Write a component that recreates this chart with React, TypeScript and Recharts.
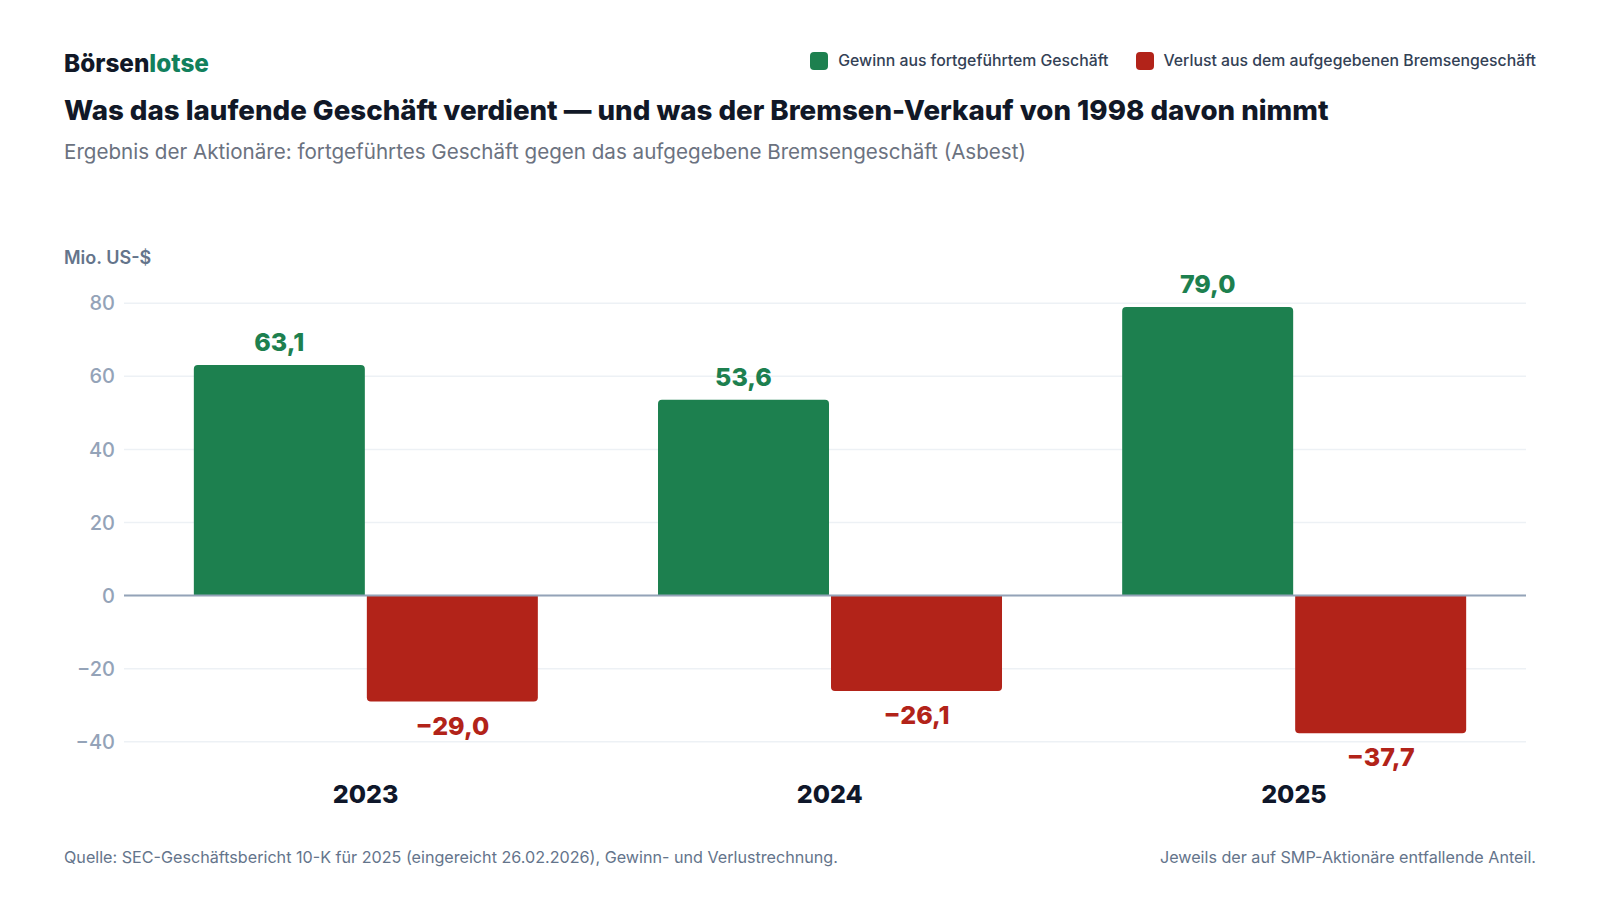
import { Bar, BarChart, CartesianGrid, LabelList, ReferenceLine, XAxis, YAxis } from "recharts";

const years = ["2023", "2024", "2025"];
const gewinn = [63.1, 53.6, 79.0];
const verlust = [-29.0, -26.1, -37.7];
const yTicks = [-40, -20, 0, 20, 40, 60, 80];

const seriesNames = ["Gewinn aus fortgeführtem Geschäft", "Verlust aus dem aufgegebenen Bremsengeschäft"];
const GREEN = "#1d804f";
const RED = "#b22319";
const FONT = 'Inter, "Noto Sans", sans-serif';

const rows = years.map((year, i) => ({ year, gewinn: gewinn[i], verlust: verlust[i] }));

function fmt(v: number) {
  return v.toFixed(1).replace(".", ",").replace("-", "\u2212");
}

function ValueLabel(props: any) {
  const vb = props.viewBox ?? {};
  const x = props.x ?? vb.x;
  const y = props.y ?? vb.y;
  const width = props.width ?? vb.width;
  const height = props.height ?? vb.height;
  const value = Number(props.value);
  if (x == null || y == null) return null;
  const top = Math.min(y, y + height);
  const bottom = Math.max(y, y + height);
  const cx = x + width / 2;
  const neg = value < 0;
  return (
    <text
      x={cx}
      y={neg ? bottom + 33 : top - 14}
      textAnchor="middle"
      fontFamily={FONT}
      fontSize={25}
      fontWeight={800}
      fill={neg ? RED : GREEN}
    >
      {fmt(value)}
    </text>
  );
}

const yTick = (v: number) => (v < 0 ? "\u2212" + Math.abs(v) : String(v));

export default function App() {
  const legendColors = [GREEN, RED];
  return (
    <div
      style={{
        position: "absolute",
        left: 0,
        top: 0,
        width: 1600,
        height: 900,
        background: "#ffffff",
        fontFamily: FONT,
      }}
    >
      <div style={{ position: "absolute", left: 64, top: 51, fontSize: 24.3, lineHeight: 1, fontWeight: 800, color: "#111827" }}>
        Börsen<span style={{ color: "#12805c" }}>lotse</span>
      </div>

      <div style={{ position: "absolute", right: 64, top: 52, display: "flex", gap: 27, alignItems: "center" }}>
        {seriesNames.map((name, i) => (
          <div key={name} style={{ display: "flex", alignItems: "center", gap: 10 }}>
            <div style={{ width: 18, height: 18, borderRadius: 4, background: legendColors[i] }} />
            <span style={{ fontSize: 15.8, fontWeight: 500, color: "#334155", lineHeight: "18px" }}>{name}</span>
          </div>
        ))}
      </div>

      <div style={{ position: "absolute", left: 64, top: 96.5, fontSize: 27.7, lineHeight: 1, fontWeight: 800, color: "#111827", whiteSpace: "nowrap" }}>
        Was das laufende Geschäft verdient — und was der Bremsen-Verkauf von 1998 davon nimmt
      </div>
      <div style={{ position: "absolute", left: 64, top: 141.5, fontSize: 20.6, lineHeight: 1, fontWeight: 400, color: "#6b7280", whiteSpace: "nowrap" }}>
        Ergebnis der Aktionäre: fortgeführtes Geschäft gegen das aufgegebene Bremsengeschäft (Asbest)
      </div>

      <div style={{ position: "absolute", left: 64, top: 248.5, fontSize: 18, lineHeight: 1, fontWeight: 600, color: "#64748b" }}>
        Mio. US-$
      </div>

      <div style={{ position: "absolute", left: 0, top: 0 }}>
        <BarChart
          width={1600}
          height={900}
          data={rows}
          margin={{ top: 303.3, right: 74, left: 64, bottom: 98.3 }}
          barCategoryGap="13%"
          barGap={2}
        >
          <CartesianGrid vertical={false} stroke="#edf1f5" strokeWidth={1.5} />
          <XAxis
            dataKey="year"
            axisLine={false}
            tickLine={false}
            tickSize={0}
            tickMargin={44}
            height={60}
            padding={{ left: 9.5, right: 0 }}
            tick={{ fontFamily: FONT, fontSize: 25, fontWeight: 800, fill: "#0f172a" }}
          />
          <YAxis
            domain={[-40, 80]}
            ticks={yTicks}
            width={60}
            axisLine={false}
            tickLine={false}
            tickSize={0}
            tickMargin={9}
            tickFormatter={yTick}
            tick={{ fontFamily: FONT, fontSize: 20, fontWeight: 500, fill: "#94a3b8" }}
          />
          <ReferenceLine y={0} stroke="#94a3b8" strokeWidth={2} />
          <Bar dataKey="gewinn" name={seriesNames[0]} fill={GREEN} radius={[4, 4, 0, 0]} isAnimationActive={false}>
            <LabelList dataKey="gewinn" content={ValueLabel} />
          </Bar>
          <Bar dataKey="verlust" name={seriesNames[1]} fill={RED} radius={[4, 4, 0, 0]} isAnimationActive={false}>
            <LabelList dataKey="verlust" content={ValueLabel} />
          </Bar>
        </BarChart>
      </div>

      <div style={{ position: "absolute", left: 64, top: 849, fontSize: 16.15, lineHeight: 1, color: "#64748b", whiteSpace: "nowrap" }}>
        Quelle: SEC-Geschäftsbericht 10-K für 2025 (eingereicht 26.02.2026), Gewinn- und Verlustrechnung.
      </div>
      <div style={{ position: "absolute", right: 64, top: 849, fontSize: 16.15, lineHeight: 1, color: "#64748b", whiteSpace: "nowrap" }}>
        Jeweils der auf SMP-Aktionäre entfallende Anteil.
      </div>
    </div>
  );
}
